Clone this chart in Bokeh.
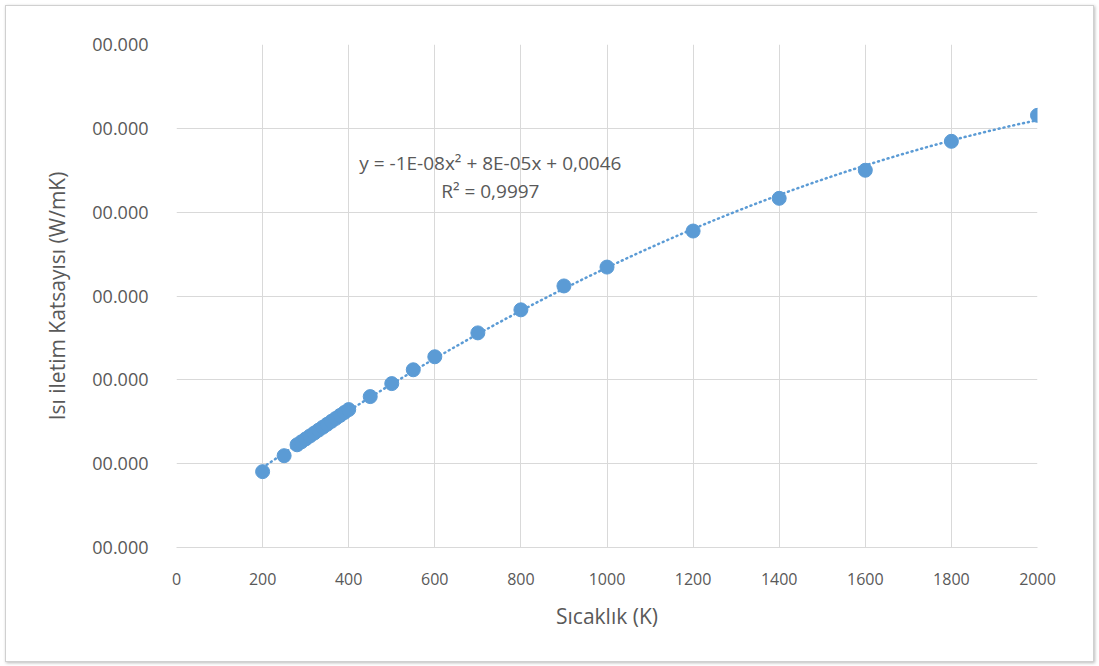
import numpy as np
from bokeh.plotting import figure
from bokeh.models import FixedTicker, Label, ColumnDataSource
from bokeh.embed import file_html
from bokeh.resources import INLINE

# Data (temperature K, thermal conductivity, arbitrary units)
temperature = [200, 250, 280, 290, 300, 310, 320, 330, 340, 350, 360, 370, 380, 390, 400,
               450, 500, 550, 600, 700, 800, 900, 1000, 1200, 1400, 1600, 1800, 2000]
conductivity = [0.0181, 0.0219, 0.0245, 0.0252, 0.0259, 0.0266, 0.0273, 0.0280, 0.0287,
                0.0294, 0.0301, 0.0308, 0.0315, 0.0322, 0.0329,
                0.0360, 0.0391, 0.0424, 0.0455, 0.0512, 0.0567, 0.0624, 0.0669,
                0.0755, 0.0833, 0.0900, 0.0969, 0.1031]

x_ticks = [0, 200, 400, 600, 800, 1000, 1200, 1400, 1600, 1800, 2000]
y_ticks = [0.0, 0.02, 0.04, 0.06, 0.08, 0.10, 0.12]
y_tick_labels = ["00.000"] * len(y_ticks)

equation_text = "y = -1E-08x\u00b2 + 8E-05x + 0,0046"
r2_text = "R\u00b2 = 0,9997"

FONT = "Open Sans"
TXT = "#595959"
BLUE = "#5B9BD5"

p = figure(width=1089, height=657, output_backend="svg", toolbar_location=None,
           x_range=(0, 2000), y_range=(0, 0.12),
           min_border_left=170, min_border_right=58, min_border_top=38, min_border_bottom=116)
p.styles = {"border": "1px solid #d0d0d0", "box-shadow": "1px 1px 3px #bbbbbb",
            "margin": "5px 0 0 5px"}
p.outline_line_color = None
p.background_fill_color = "white"
p.border_fill_color = "white"

# trendline: polynomial (order 2) fit computed from data
coef = np.polyfit(temperature, conductivity, 2)
xs = np.linspace(min(temperature), max(temperature), 200)
ys = np.polyval(coef, xs)
p.line(xs, ys, line_color=BLUE, line_width=2.5, line_dash="1 4", line_cap="round")

src = ColumnDataSource(dict(x=temperature, y=conductivity))
p.scatter("x", "y", source=src, size=14, fill_color=BLUE, line_color=BLUE)

p.xaxis.ticker = FixedTicker(ticks=x_ticks)
p.yaxis.ticker = FixedTicker(ticks=y_ticks)
p.yaxis.major_label_overrides = {t: l for t, l in zip(y_ticks, y_tick_labels)}

for ax in (p.xaxis[0], p.yaxis[0]):
    ax.major_tick_line_color = None
    ax.minor_tick_line_color = None
    ax.major_label_text_font = FONT
    ax.major_label_text_color = TXT
    ax.axis_label_text_font = FONT
    ax.axis_label_text_font_size = "21px"
    ax.axis_label_text_color = TXT
    ax.axis_label_text_font_style = "normal"

p.xaxis.major_label_text_font_size = "16px"
p.yaxis.major_label_text_font_size = "18px"
p.xaxis.axis_line_color = "#d9d9d9"
p.yaxis.axis_line_color = None
p.xaxis.major_label_standoff = 19
p.yaxis.major_label_standoff = 22
p.xaxis.axis_label = "Sıcaklık (K)"
p.yaxis.axis_label = "Isı iletim Katsayısı (W/mK)"
p.xaxis.axis_label_standoff = 14
p.yaxis.axis_label_standoff = 18

p.xgrid.ticker = FixedTicker(ticks=x_ticks)
p.ygrid.ticker = FixedTicker(ticks=y_ticks)
p.grid.grid_line_color = "#d9d9d9"
p.grid.grid_line_width = 1

p.add_layout(Label(x=729, y=0.0917, text=equation_text, text_align="center",
                   text_baseline="middle", text_font=FONT, text_font_size="19px",
                   text_color=TXT))
p.add_layout(Label(x=729, y=0.0850, text=r2_text, text_align="center",
                   text_baseline="middle", text_font=FONT, text_font_size="19px",
                   text_color=TXT))

open("out.html", "w").write(file_html(p, INLINE))
